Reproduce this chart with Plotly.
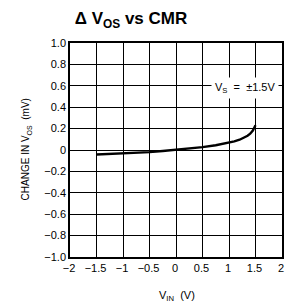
import plotly.graph_objects as go

vin = [-1.5, -1.25, -1.0, -0.75, -0.5, -0.25, 0.0, 0.25, 0.5, 0.75, 1.0, 1.1, 1.2, 1.3, 1.35, 1.4, 1.45, 1.5]
dvos = [-0.042, -0.038, -0.033, -0.027, -0.020, -0.010, 0.0, 0.013, 0.027, 0.044, 0.068, 0.080, 0.096, 0.118, 0.133, 0.152, 0.182, 0.232]

x_ticks = [-2, -1.5, -1, -0.5, 0, 0.5, 1, 1.5, 2]
x_labels = ["\u22122", "\u22121.5", "\u22121", "\u22120.5", "0", "0.5", "1", "1.5", "2"]
y_ticks = [1.0, 0.8, 0.6, 0.4, 0.2, 0, -0.2, -0.4, -0.6, -0.8, -1.0]
y_labels = ["1.0", "0.8", "0.6", "0.4", "0.2", "0", "\u22120.2", "\u22120.4", "\u22120.6", "\u22120.8", "\u22121.0"]

font = "Liberation Sans, Arial, sans-serif"

L, R, T, B, W, H = 70, 4, 43, 49, 288, 306

fig = go.Figure()
fig.add_trace(go.Scatter(x=vin, y=dvos, mode="lines",
                         line=dict(color="black", width=2.4, shape="linear"),
                         showlegend=False, hoverinfo="skip"))

axis_common = dict(showgrid=True, gridcolor="black", gridwidth=1,
                   showline=True, linecolor="black", linewidth=1.5, mirror=True,
                   zeroline=False, ticks="", tickfont=dict(family=font, size=11, color="black"))

fig.update_xaxes(range=[-2, 2], tickvals=x_ticks, ticktext=x_labels, ticklabelshift=-1, **axis_common)
fig.update_yaxes(range=[-1, 1], tickvals=y_ticks, ticktext=y_labels, **axis_common)

pw, ph = W - L - R, H - T - B


def px2paper(px, py):
    return (px - L) / pw, 1 - (py - T) / ph


ax1, ay1 = px2paper(26, 149)
ax2, ay2 = px2paper(178, 296)

fig.update_layout(
    width=W, height=H,
    margin=dict(l=L, r=R, t=T, b=B),
    plot_bgcolor="white", paper_bgcolor="white",
    title=dict(text="<b>\u0394 V<sub>OS</sub> vs CMR</b>", xref="container", x=131 / W, xanchor="center",
               yref="container", y=1 - 18 / H, yanchor="middle",
               font=dict(family=font, size=17, color="black")),
    annotations=[
        dict(text="V<sub>S</sub>  =  \u00b11.5V", x=1.95, y=0.58, xref="x", yref="y",
             xanchor="right", yanchor="middle",
             showarrow=False, bgcolor="white", borderpad=3,
             font=dict(family=font, size=11, color="black")),
        dict(text="CHANGE IN V<sub>OS</sub>  (mV)", x=ax1, y=ay1, xref="paper", yref="paper",
             xanchor="center", yanchor="middle",
             showarrow=False, textangle=-90, font=dict(family=font, size=10, color="black")),
        dict(text="V<sub>IN</sub>  (V)", x=ax2, y=ay2, xref="paper", yref="paper",
             xanchor="center", yanchor="middle",
             showarrow=False, font=dict(family=font, size=11, color="black")),
    ],
)

fig.write_html("out.html", config={"displayModeBar": False},
               post_script="document.body.style.margin='0';")
